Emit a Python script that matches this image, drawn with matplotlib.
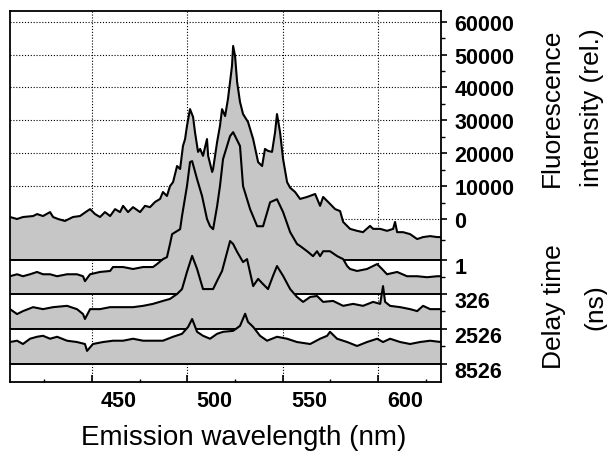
import numpy as np
import matplotlib
matplotlib.use('Agg')
import matplotlib.pyplot as plt
from matplotlib.transforms import ScaledTranslation
from matplotlib.ticker import FixedLocator

plt.rcParams['font.family'] = ['Liberation Sans', 'DejaVu Sans']

# ---------------- data ----------------
intensity_ticks = [0, 10000, 20000, 30000, 40000, 50000, 60000]
delay_labels = ['0', '1', '326', '2526', '8526']
delay_offsets = [0, -12500, -22800, -33400, -44000]
wl_ticks = [450, 500, 550, 600]
wl_minor = [425, 475, 525, 575, 625]

wl_0ns = [407.0, 410.7, 413.8, 419.1, 421.2, 424.3, 428.0, 429.6, 432.2, 435.8, 440.0, 443.7, 447.4, 449.0,
          451.6, 454.2, 456.8, 459.5, 462.1, 464.7, 466.3, 468.9, 471.5, 475.2, 477.8, 480.4, 483.1, 485.7,
          487.2, 489.3, 490.9, 492.5, 494.6, 496.2, 497.7, 498.8, 499.8, 501.4, 503.0, 504.0, 505.6, 506.7,
          508.2, 510.3, 510.9, 513.0, 513.5, 515.6, 517.1, 518.2, 519.8, 521.3, 523.4, 524.0, 525.0, 526.1,
          527.6, 529.2, 531.8, 534.5, 537.1, 539.2, 540.7, 542.3, 544.4, 546.0, 547.0, 548.6, 550.2, 552.3,
          553.9, 556.5, 559.1, 562.8, 567.0, 569.6, 571.2, 574.8, 577.5, 580.1, 581.7, 585.3, 589.0, 592.1,
          595.8, 597.4, 601.1, 604.7, 607.9, 608.9, 610.0, 613.1, 616.8, 620.5, 623.6, 627.3, 631.0, 633.0]
int_0ns = [600, 0, 600, 900, 1500, 900, 2100, 600, 0, -600, 600, 900, 2400, 3000,
           1500, 600, 2100, 900, 3000, 2100, 4000, 2100, 3600, 2100, 4000, 3600, 5200, 6100,
           8200, 7000, 10000, 11200, 16100, 15200, 22200, 24300, 28300, 33400, 31000, 26400, 20400, 21300,
           19200, 24300, 19200, 14300, 15200, 23400, 28300, 33400, 31300, 36500, 46500, 52600, 49600, 41600,
           35600, 31900, 29500, 24300, 17300, 16100, 21300, 20700, 20400, 26400, 31900, 26400, 18200, 11200,
           9500, 8200, 6100, 6700, 7600, 4000, 6700, 4600, 3000, 2400, -900, -3000, -3600, -4000,
           -2100, -3000, -3000, -3600, -3000, -900, -4000, -4000, -4600, -6100, -5500, -5200, -5500, -5500]

wl_1ns = [407.0, 410.7, 413.8, 417.5, 421.2, 424.3, 428.0, 431.7, 436.9, 442.1, 445.3, 446.3, 449.0, 454.2,
          459.5, 461.0, 466.3, 471.5, 476.8, 482.0, 484.1, 487.2, 489.3, 490.9, 492.0, 496.2, 497.2, 499.8,
          501.4, 502.5, 505.1, 507.7, 510.3, 511.9, 513.5, 515.6, 517.1, 518.7, 522.4, 524.0, 527.6, 529.2,
          532.9, 536.6, 539.7, 543.4, 547.0, 550.2, 553.9, 557.5, 559.1, 562.8, 565.9, 568.0, 569.6, 571.2,
          574.8, 578.6, 581.7, 583.8, 585.3, 589.0, 594.2, 599.5, 602.1, 604.7, 610.0, 615.2, 620.5, 625.7,
          631.0, 633.0]
int_1ns = [-4900, -4300, -4900, -4300, -3600, -4300, -4300, -4900, -4300, -4300, -4900, -6400, -4300, -3600,
           -3300, -2100, -2100, -2700, -2100, -2100, -1200, 300, 900, 4900, 7900, 9400, 13400, 22500,
           29800, 30100, 24600, 19500, 12500, 10300, 9400, 16400, 22500, 30700, 37700, 38900, 34700, 22500,
           15500, 10300, 10300, 17600, 18500, 14600, 8500, 4900, 4300, 2700, 1200, 2700, 1200, 2700,
           2700, 1200, 300, -1800, -2700, -3300, -2700, -1200, -2700, -4300, -3600, -4900, -4900, -5200,
           -4900, -4900]

wl_326ns = [407.0, 410.7, 413.8, 419.1, 424.3, 429.6, 436.9, 442.1, 445.3, 446.3, 449.0, 454.2, 459.5, 464.7,
            471.5, 476.8, 482.0, 487.2, 490.9, 494.6, 497.2, 499.8, 502.5, 505.1, 508.2, 513.5, 516.1, 518.2,
            522.4, 524.0, 526.1, 529.2, 531.3, 534.5, 537.1, 539.7, 542.3, 544.9, 547.0, 550.2, 553.9, 557.5,
            560.7, 564.4, 568.0, 571.2, 576.4, 581.7, 586.9, 592.1, 597.4, 601.1, 602.6, 603.7, 606.3, 611.6,
            616.8, 620.5, 623.6, 627.3, 633.0]
int_326ns = [-4600, -6100, -5200, -4000, -4600, -4000, -3600, -4600, -6100, -7600, -4600, -4600, -4000, -4000,
             -4000, -3600, -3000, -2100, -1500, 0, 1500, 6700, 11600, 7600, 1500, 1500, 4600, 7000,
             16100, 15200, 12800, 9700, 10600, 2400, 4600, 3000, 1500, 5500, 8500, 5500, 1500, -900,
             -2400, -900, -600, -2400, -2100, -3600, -3000, -3600, -2400, -3000, 2400, -2400, -3600, -4000,
             -4600, -5200, -3600, -4600, -4600]

wl_2526ns = [407.0, 410.7, 413.8, 417.5, 421.2, 424.3, 428.0, 431.7, 436.9, 442.1, 446.3, 447.4, 450.5, 455.8,
             461.0, 466.3, 471.5, 476.8, 482.0, 487.2, 492.5, 497.2, 500.4, 502.5, 505.1, 508.2, 511.9, 515.6,
             518.7, 524.0, 527.6, 530.3, 531.8, 534.5, 538.1, 541.8, 547.0, 552.3, 557.5, 564.4, 569.6, 573.3,
             574.8, 578.5, 583.8, 589.0, 594.2, 599.5, 602.6, 606.3, 611.6, 616.8, 622.0, 627.3, 633.0]
int_2526ns = [-4000, -3600, -4600, -3000, -2400, -2100, -3000, -2400, -3600, -4000, -4600, -6700, -4600, -4000,
              -3600, -3600, -3000, -3600, -3600, -3600, -2400, -1500, 600, 3000, -900, -2100, -3000, -1500,
              -900, -600, 900, 4600, 2100, 600, -2100, -3600, -2400, -3000, -4000, -4600, -3000, -2100,
              -900, -3000, -4000, -5200, -4000, -3000, -4000, -3000, -4000, -4600, -4000, -3600, -4000]

spectra = [(wl_0ns, int_0ns), (wl_1ns, int_1ns), (wl_326ns, int_326ns), (wl_2526ns, int_2526ns)]

# ---------------- figure ----------------
W, H, DPI = 607, 452, 100
fig = plt.figure(figsize=(W / DPI, H / DPI), dpi=DPI)
ax = fig.add_axes([10 / W, 1 - 383 / H, (441 - 10) / W, (383 - 12) / H])
ax.set_xlim(407, 633)
ax.set_ylim(-49550, 63230)

fill_col = '#c6c6c6'
dot = (0, (1, 1.6))

for v in intensity_ticks:
    ax.axhline(v, color='black', lw=0.8, ls=dot, zorder=1)
for v in wl_ticks:
    ax.axvline(v, color='black', lw=0.8, ls=dot, zorder=1)

for k, (wl, it) in enumerate(spectra):
    wl = np.asarray(wl)
    y = delay_offsets[k] + np.asarray(it)
    base = delay_offsets[k + 1]
    z = 2 + 2 * k
    ax.fill_between(wl, y, base, color=fill_col, lw=0, zorder=z)
    ax.plot(wl, y, color='black', lw=1.5, zorder=z + 1)
    ax.axhline(base, color='black', lw=1.4, zorder=z + 1)

# spines
for s in ax.spines.values():
    s.set_linewidth(1.3)
    s.set_zorder(20)

# x axis
ax.xaxis.set_major_locator(FixedLocator(wl_ticks))
ax.xaxis.set_minor_locator(FixedLocator(wl_minor))
ax.set_xticklabels([str(v) for v in wl_ticks])
ax.tick_params(axis='x', which='major', direction='in', length=5, width=1.2, pad=6,
               labelsize=15.5, top=False)
ax.tick_params(axis='x', which='minor', direction='in', length=2.5, width=1.0, top=False)
for lab in ax.get_xticklabels():
    lab.set_fontweight('bold')
    lab.set_transform(lab.get_transform() + ScaledTranslation(27 / DPI, 0, fig.dpi_scale_trans))

# y axis on the right
ax.yaxis.tick_right()
ypos = list(intensity_ticks) + delay_offsets[1:]
ylab = [str(v) for v in intensity_ticks] + delay_labels[1:]
ax.yaxis.set_major_locator(FixedLocator(ypos))
ax.set_yticklabels(ylab)
ymin = [(a + b) / 2 for a, b in zip(intensity_ticks[:-1], intensity_ticks[1:])] + \
       [(a + b) / 2 for a, b in zip(delay_offsets[:-1], delay_offsets[1:])]
ax.yaxis.set_minor_locator(FixedLocator(ymin))
ax.tick_params(axis='y', which='major', direction='out', length=4.5, width=1.2, pad=5,
               labelsize=15.5, left=False, right=True)
ax.tick_params(axis='y', which='minor', direction='out', length=3, width=1.0, left=False, right=True)
for lab, pos in zip(ax.get_yticklabels(), ypos):
    lab.set_fontweight('bold')
    if pos < 0:
        lab.set_transform(lab.get_transform() + ScaledTranslation(0, -5 / DPI, fig.dpi_scale_trans))

# axis titles
fig.text(244 / W, 7 / H, 'Emission wavelength (nm)', ha='center', va='baseline', fontsize=20)
fig.text(552 / W, 1 - 108 / H, 'Fluorescence', rotation=90, ha='center', va='center', fontsize=19)
fig.text(592 / W, 1 - 108 / H, 'intensity (rel.)', rotation=90, ha='center', va='center', fontsize=19)
fig.text(554 / W, 1 - 307 / H, 'Delay time', rotation=90, ha='center', va='center', fontsize=19)
fig.text(595 / W, 1 - 307 / H, '(ns)', rotation=90, ha='center', va='center', fontsize=19)

fig.savefig('out.png', dpi=DPI)
